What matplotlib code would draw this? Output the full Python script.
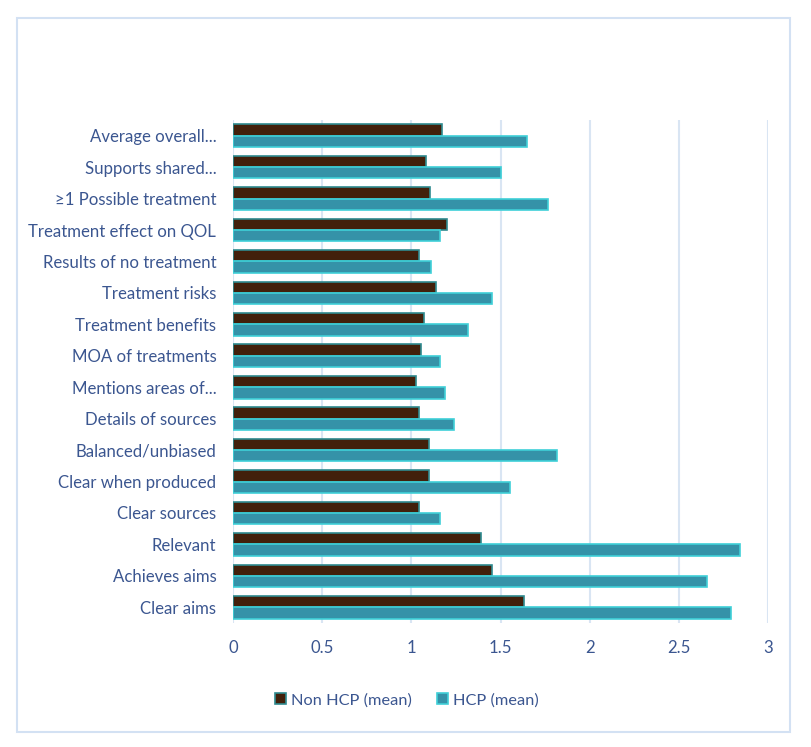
import matplotlib
matplotlib.use("Agg")
import matplotlib.pyplot as plt
from matplotlib.patches import Rectangle
import numpy as np

categories = ["Average overall...", "Supports shared...", "\u22651 Possible treatment",
              "Treatment effect on QOL", "Results of no treatment", "Treatment risks",
              "Treatment benefits", "MOA of treatments", "Mentions areas of...",
              "Details of sources", "Balanced/unbiased", "Clear when produced",
              "Clear sources", "Relevant", "Achieves aims", "Clear aims"]
non_hcp = [1.17, 1.08, 1.105, 1.20, 1.045, 1.14, 1.073, 1.056, 1.026, 1.045,
           1.10, 1.10, 1.045, 1.388, 1.454, 1.63]
hcp = [1.65, 1.50, 1.765, 1.16, 1.11, 1.45, 1.32, 1.16, 1.19, 1.24,
       1.815, 1.555, 1.16, 2.844, 2.66, 2.794]
xticks = [0, 0.5, 1, 1.5, 2, 2.5, 3]
xticklabels = ["0", "0.5", "1", "1.5", "2", "2.5", "3"]

plt.rcParams['font.family'] = ['Lato', 'DejaVu Sans']
text_color = "#3b5690"

fig = plt.figure(figsize=(8.11, 7.47), dpi=100)
fig.patch.set_facecolor("white")
fig.patches.append(Rectangle((17/811, 1-732/747), (790-17)/811, (732-18)/747,
                             transform=fig.transFigure, fill=False,
                             edgecolor="#d3e1f3", linewidth=1.5))

ax = fig.add_axes([233/811, 1-623/747, (768-233)/811, (623-120)/747])
n = len(categories)
y = np.arange(n)[::-1]
h = 0.36
ax.barh(y + h/2, non_hcp, height=h, color="#42200b", edgecolor="#2f8a8f",
        linewidth=1.2, label="Non HCP (mean)", zorder=3)
ax.barh(y - h/2, hcp, height=h, color="#3592a8", edgecolor="#3fd0d8",
        linewidth=1.2, label="HCP (mean)", zorder=3)

ax.set_xlim(0, 3)
ax.set_ylim(-0.5, n - 0.5)
ax.set_yticks(y)
ax.set_yticklabels(categories, fontsize=12.1, color=text_color)
ax.set_xticks(xticks)
ax.set_xticklabels(xticklabels, fontsize=12.1, color=text_color)
ax.tick_params(axis='both', length=0)
ax.tick_params(axis='x', pad=12)
ax.tick_params(axis='y', pad=12)
for s in ax.spines.values():
    s.set_visible(False)
ax.grid(axis='x', color="#d9e5f3", linewidth=1.5, zorder=0)
ax.set_axisbelow(True)

leg = fig.legend(loc="center", bbox_to_anchor=(407/811, 1-700/747), ncol=2,
                 frameon=False, fontsize=11.8, handlelength=0.7, handleheight=0.7,
                 handletextpad=0.3, columnspacing=1.5)
for t in leg.get_texts():
    t.set_color(text_color)

fig.savefig("out.png", dpi=100)
